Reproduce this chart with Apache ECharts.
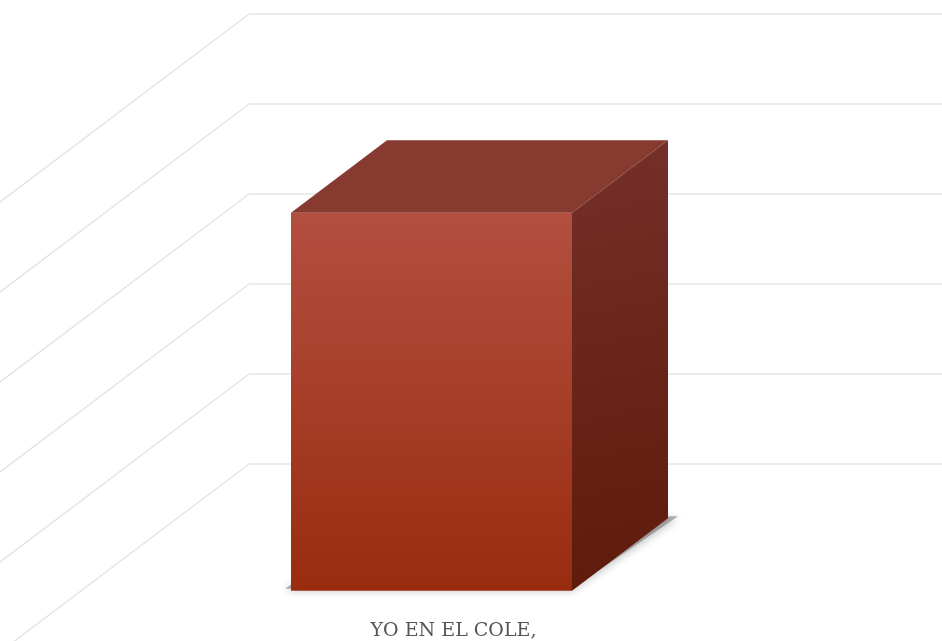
<!DOCTYPE html>
<html>
<head>
<meta charset="utf-8">
<script src="https://cdn.jsdelivr.net/npm/echarts@6/dist/echarts.min.js"></script>
<style>html,body{margin:0;padding:0;background:#fff}#c{width:942px;height:641px}</style>
</head>
<body>
<div id="c"></div>
<script>
const categories = ['YO EN EL COLE,'];
const values = [4.2];
const tickValues = [0, 1, 2, 3, 4, 5];
const axisMin = 0, axisMax = 5, axisInterval = 1;

const SLOPE = 0.755;       // depth projection dy/dx
const BACK_DEPTH = 72;     // px from back wall to bar back face
const BAR_DEPTH = 96;      // px depth of bar
const BAR_SHIFT = 4;       // small lateral offset of bar in Excel's 3D view
const BAR_FRACTION = 0.4055;
const LABEL_DEPTH = 142;   // px depth where the category label sits
const GRID_COLOR = '#e6e6e0';

const chart = echarts.init(document.getElementById('c'), null, {renderer: 'canvas'});

chart.setOption({
  animation: false,
  backgroundColor: '#ffffff',
  grid: {left: 249, right: 0, top: 14, bottom: 177},
  xAxis: {
    type: 'category', data: categories,
    axisLine: {show: false}, axisTick: {show: false}, axisLabel: {show: false}, splitLine: {show: false}
  },
  yAxis: {
    type: 'value', min: axisMin, max: axisMax, interval: axisInterval,
    axisLine: {show: false}, axisTick: {show: false}, axisLabel: {show: false},
    splitLine: {show: true, lineStyle: {color: GRID_COLOR, width: 1.5}}
  },
  series: [
    {
      type: 'custom', z: 1, silent: true,
      data: tickValues.map(v => [0, v]),
      renderItem: function (params, api) {
        const p = api.coord([0, api.value(1)]);
        const x0 = params.coordSys.x;
        const L = 500;
        return {
          type: 'line',
          shape: {x1: x0, y1: p[1], x2: x0 - L, y2: p[1] + L * SLOPE},
          style: {stroke: GRID_COLOR, lineWidth: 1.5}
        };
      }
    },
    {
      type: 'custom', z: 5, silent: true,
      data: values.map((v, i) => [i, v]),
      renderItem: function (params, api) {
        const idx = api.value(0);
        const top = api.coord([idx, api.value(1)]);
        const base = api.coord([idx, 0]);
        const w = api.size([1, 0])[0] * BAR_FRACTION;
        const fd = BACK_DEPTH + BAR_DEPTH;
        const cx = top[0] + BAR_SHIFT;
        const x0 = cx - w / 2 - fd;
        const x1 = cx + w / 2 - fd;
        const yT = top[1] + fd * SLOPE;
        const yB = base[1] + fd * SLOPE;
        const dx = BAR_DEPTH, dy = BAR_DEPTH * SLOPE;
        const shadow = {
          type: 'polygon',
          shape: {points: [[x0 - 6, yB - 2], [x1, yB - 2], [x1 + dx + 10, yB - dy - 2], [x0 + dx, yB - dy - 2]]},
          style: {fill: 'rgba(90,90,90,0.45)', shadowBlur: 8, shadowColor: 'rgba(0,0,0,0.55)', shadowOffsetX: 0, shadowOffsetY: 2}
        };
        const front = {
          type: 'rect',
          shape: {x: x0, y: yT, width: x1 - x0, height: yB - yT},
          style: {fill: new echarts.graphic.LinearGradient(0, 0, 0, 1, [
            {offset: 0, color: '#b34f40'}, {offset: 1, color: '#992c0f'}
          ])}
        };
        const topFace = {
          type: 'polygon',
          shape: {points: [[x0, yT], [x1, yT], [x1 + dx, yT - dy], [x0 + dx, yT - dy]]},
          style: {fill: '#873a2f'}
        };
        const side = {
          type: 'polygon',
          shape: {points: [[x1, yT], [x1 + dx, yT - dy], [x1 + dx, yB - dy], [x1, yB]]},
          style: {fill: new echarts.graphic.LinearGradient(0, 0, 1, 1, [
            {offset: 0, color: '#75302a'}, {offset: 1, color: '#5e1a0a'}
          ])}
        };
        const label = {
          type: 'text',
          style: {
            x: top[0] - LABEL_DEPTH, y: 631, text: categories[idx],
            align: 'center', verticalAlign: 'middle',
            font: '19px "DejaVu Serif"', fill: '#555555'
          }
        };
        return {type: 'group', children: [shadow, front, side, topFace, label]};
      }
    }
  ]
});
</script>
</body>
</html>
